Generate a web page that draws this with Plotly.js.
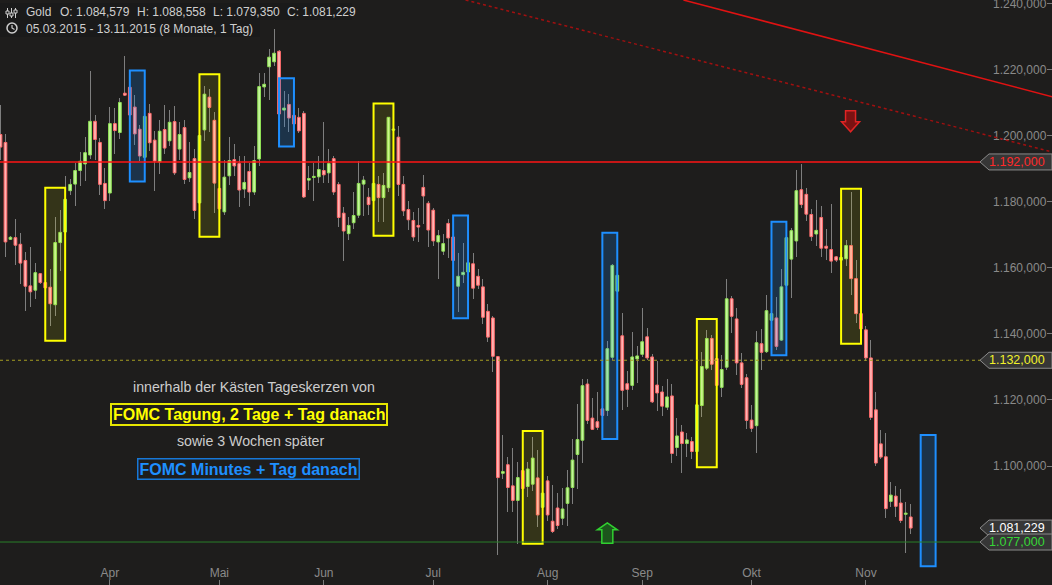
<!DOCTYPE html>
<html>
<head>
<meta charset="utf-8">
<script src="https://cdn.plot.ly/plotly-3.0.1.min.js"></script>
<style>
  html, body { margin: 0; padding: 0; background: #1e1d1c; }
  #chart { width: 1052px; height: 585px; }
</style>
</head>
<body>
<div id="chart"></div>
<script>
// Gold daily candles, 05.03.2015 - 13.11.2015 (one entry per session)
const opens = [
  1200.3,1197.9,1168.6,1169.1,1167.1,1162.2,1154.5,1153.2,1158.2,1155.5,
  1154.1,1148.8,1167.6,1170.8,1183.3,1185.3,1189.4,1191.4,1194.1,1204.3,
  1197.9,1185.5,1182.6,1203.6,1200.9,1212.8,1214.6,1208.6,1201.9,1193.4,
  1206.7,1198.6,1192.0,1201.8,1198.4,1204.2,1195.9,1202.4,1187.2,1193.0,
  1179.6,1201.7,1211.6,1204.6,1184.0,1176.9,1187.8,1192.7,1191.5,1183.8,
  1189.1,1182.9,1192.9,1214.7,1220.8,1222.3,1225.5,1207.7,1209.4,1206.1,
  1205.5,1206.7,1186.5,1187.3,1187.5,1189.4,1188.7,1193.0,1185.2,1176.5,
  1170.3,1173.6,1175.9,1185.3,1181.3,1180.3,1185.2,1181.2,1184.2,1201.6,
  1199.5,1185.2,1177.6,1174.3,1172.8,1184.3,1179.5,1177.4,1167.8,1165.0,
  1173.4,1169.3,1154.4,1157.9,1158.7,1161.2,1157.4,1154.2,1146.8,1144.8,
  1133.1,1097.8,1100.4,1094.0,1089.6,1098.6,1093.8,1094.5,1096.4,1087.5,
  1095.5,1083.3,1087.3,1084.2,1088.7,1093.5,1103.5,1107.8,1124.8,1114.5,
  1113.4,1117.3,1116.8,1132.9,1152.9,1139.4,1124.9,1124.4,1132.4,1133.8,
  1139.1,1133.0,1124.5,1122.4,1117.8,1121.2,1105.6,1110.3,1106.8,1107.4,
  1104.4,1118.3,1129.6,1138.6,1132.5,1123.8,1129.9,1150.6,1144.5,1131.2,
  1126.7,1113.9,1112.2,1137.0,1134.6,1144.1,1144.8,1138.1,1154.7,1162.6,
  1168.1,1183.6,1182.2,1176.1,1170.2,1175.2,1166.5,1165.5,1163.3,1162.3,
  1162.7,1166.7,1156.7,1146.1,1141.2,1132.7,1117.0,1106.7,1102.8,1089.3,
  1090.9,1088.8,1085.4,1084.579
];
const highs = [
  1209.2,1200.6,1169.5,1174.8,1170.4,1164.9,1166.2,1161.5,1158.5,1156.0,
  1159.5,1175.2,1177.6,1187.7,1186.7,1191.7,1194.9,1199.4,1219.5,1206.2,
  1199.1,1190.3,1208.7,1208.2,1211.3,1224.0,1215.5,1212.2,1203.1,1206.5,
  1209.5,1201.3,1204.6,1209.2,1207.7,1208.9,1204.0,1204.6,1197.9,1195.8,
  1201.0,1214.9,1214.0,1207.1,1184.5,1192.5,1199.4,1197.3,1193.7,1193.7,
  1191.7,1196.7,1218.8,1219.0,1226.2,1232.2,1226.0,1213.4,1212.7,1207.0,
  1208.4,1207.5,1190.7,1191.7,1193.7,1204.0,1196.0,1193.8,1185.8,1178.4,
  1175.3,1182.9,1192.3,1187.7,1184.1,1186.0,1187.7,1188.8,1205.6,1202.2,
  1202.8,1187.9,1180.1,1176.8,1178.2,1188.0,1180.3,1178.1,1171.3,1170.1,
  1174.6,1170.5,1164.5,1167.6,1162.5,1164.5,1159.5,1156.7,1149.1,1145.5,
  1133.2,1109.5,1102.8,1105.5,1101.1,1099.5,1101.1,1108.7,1104.9,1093.0,
  1097.0,1094.2,1091.8,1093.4,1098.9,1108.2,1118.9,1126.4,1126.4,1120.7,
  1122.5,1118.0,1137.7,1161.0,1158.2,1146.2,1128.9,1140.4,1136.2,1147.7,
  1141.9,1133.9,1131.9,1124.1,1126.2,1124.8,1114.6,1112.5,1110.1,1108.9,
  1119.0,1134.6,1141.3,1139.5,1133.0,1133.7,1156.5,1151.3,1147.9,1134.3,
  1127.7,1118.5,1140.9,1141.5,1151.6,1147.0,1151.0,1159.5,1169.5,1172.0,
  1189.5,1191.3,1184.0,1177.9,1180.4,1178.8,1171.6,1179.2,1163.6,1163.5,
  1168.3,1182.9,1162.2,1146.5,1142.5,1138.0,1122.5,1110.9,1110.0,1095.2,
  1094.0,1093.0,1089.2,1088.558
];
const lows = [
  1192.5,1163.2,1168.3,1160.7,1155.2,1146.8,1148.1,1150.5,1155.2,1153.0,
  1142.3,1145.3,1159.0,1170.0,1182.0,1178.7,1184.6,1186.2,1193.0,1192.5,
  1182.0,1177.8,1180.2,1194.3,1199.0,1212.0,1205.0,1197.1,1192.3,1193.0,
  1195.3,1183.2,1188.3,1194.3,1196.8,1188.0,1192.5,1185.2,1186.0,1174.7,
  1178.0,1198.4,1201.1,1176.5,1176.5,1176.0,1184.9,1187.7,1178.4,1181.0,
  1178.7,1182.0,1190.9,1211.7,1210.8,1221.0,1206.0,1202.6,1201.1,1202.5,
  1200.8,1181.0,1183.4,1180.2,1185.5,1185.5,1185.5,1182.0,1172.3,1162.0,
  1168.3,1171.8,1175.0,1175.5,1175.8,1179.5,1173.8,1173.8,1182.9,1201.4,
  1181.6,1175.6,1171.3,1168.0,1167.8,1173.1,1166.2,1166.5,1156.5,1163.7,
  1162.8,1159.0,1146.5,1155.3,1157.5,1150.4,1153.5,1143.0,1137.5,1128.4,
  1073.0,1096.1,1086.2,1086.2,1076.4,1092.0,1090.5,1092.5,1081.4,1086.0,
  1083.4,1079.6,1081.0,1082.2,1082.0,1088.5,1092.9,1100.8,1112.7,1110.9,
  1111.0,1114.5,1115.2,1132.0,1152.5,1116.8,1117.8,1122.9,1125.0,1133.0,
  1132.0,1119.0,1116.5,1115.2,1117.0,1100.8,1102.9,1097.8,1102.6,1102.0,
  1103.5,1114.7,1129.0,1129.2,1123.8,1120.8,1129.0,1140.2,1127.4,1123.5,
  1111.1,1110.4,1103.8,1129.2,1134.1,1143.5,1135.0,1137.7,1154.0,1150.8,
  1163.2,1178.0,1174.1,1168.1,1166.5,1163.2,1162.2,1158.4,1161.7,1162.0,
  1160.4,1151.6,1143.2,1141.0,1131.9,1113.9,1100.0,1102.1,1084.4,1087.7,
  1084.7,1082.9,1073.6,1079.350
];
const closes = [
  1196.5,1167.8,1169.2,1166.8,1161.4,1154.4,1152.7,1158.5,1155.5,1153.9,
  1149.1,1167.6,1170.7,1180.7,1185.2,1189.4,1192.2,1194.8,1204.3,1198.8,
  1185.2,1180.3,1203.6,1201.5,1210.0,1212.2,1206.2,1200.5,1193.8,1205.8,
  1197.8,1192.3,1201.3,1196.2,1204.0,1188.7,1200.3,1186.7,1188.8,1177.3,
  1200.0,1212.5,1208.5,1185.6,1177.8,1187.4,1192.4,1190.8,1183.5,1185.8,
  1182.9,1192.4,1214.8,1215.5,1223.7,1224.9,1206.5,1208.3,1205.3,1203.5,
  1201.4,1181.4,1187.0,1187.5,1189.7,1188.1,1191.5,1182.9,1175.2,1171.1,
  1172.8,1175.8,1185.5,1186.5,1179.1,1185.5,1181.2,1184.9,1205.5,1201.9,
  1185.2,1177.2,1174.5,1169.3,1172.3,1181.7,1171.4,1168.1,1169.7,1167.3,
  1169.0,1162.2,1157.4,1158.6,1161.5,1153.8,1154.7,1145.0,1139.0,1133.2,
  1096.5,1098.3,1093.5,1089.6,1096.5,1093.2,1099.1,1102.4,1085.2,1091.8,
  1085.2,1080.2,1082.0,1087.0,1093.4,1101.8,1108.0,1124.3,1113.8,1111.1,
  1111.7,1115.3,1135.5,1160.7,1157.7,1122.9,1123.2,1133.0,1133.3,1137.6,
  1132.7,1119.4,1122.1,1118.1,1120.9,1103.8,1109.1,1106.8,1107.9,1104.4,
  1118.5,1130.1,1138.6,1130.8,1124.4,1129.2,1150.6,1145.3,1131.2,1124.7,
  1113.8,1111.4,1137.3,1134.4,1147.0,1146.1,1136.2,1154.2,1169.1,1171.2,
  1183.3,1179.1,1176.2,1169.4,1171.3,1165.9,1165.9,1162.0,1162.3,1163.1,
  1166.7,1156.7,1146.1,1141.5,1132.7,1114.7,1100.9,1102.7,1087.1,1091.2,
  1087.8,1083.5,1085.6,1081.229
];

// month labels and the session index of the first trading day
const monthTicks  = [22, 44, 65, 87, 110, 129, 151, 174];
const monthLabels = ['Apr', 'Mai', 'Jun', 'Jul', 'Aug', 'Sep', 'Okt', 'Nov'];
const priceTicks  = [1100, 1120, 1140, 1160, 1180, 1200, 1220, 1240];

// FOMC meeting windows (2 days + day after) and minutes windows (+ day after)
const meetingStart  = [9, 40, 75, 105, 140, 169];
const meetingHigh   = [1184.2, 1218.5, 1209.7, 1110.6, 1144.5, 1183.9];
const meetingLow    = [1137.9, 1169.4, 1169.7, 1076.5, 1099.6, 1137.0];
const minutesStart  = [26, 56, 91, 121, 155, 185];
const minutesHigh   = [1219.7, 1217.3, 1175.8, 1170.6, 1173.9, 1109.4];
const minutesLow    = [1186.1, 1196.7, 1144.7, 1108.2, 1133.5, 1069.7];

// horizontal levels and trend lines
const resistance = 1192;
const midLevel   = 1132;
const support    = 1077;
const trendSolidX  = [137.3, 211.5];
const trendSolidY  = [1241.0, 1211.7];
const trendDottedX = [93.5, 211.5];
const trendDottedY = [1241.0, 1195.0];

// signal arrows: session index and price at the arrow tip
const sellArrow = { x: 170.9, y: 1201.1 };
const buyArrow  = { x: 122.0, y: 1082.8 };

const FONT = 'Liberation Sans, Arial, sans-serif';
const W = 1052, H = 585;
const px = v => v / W;
const py = v => 1 - v / H;

function fmtDE(v) {
  const parts = v.toFixed(3).split('.');
  return parts[0].replace(/\B(?=(\d{3})+(?!\d))/g, '.') + ',' + parts[1];
}

const idx = opens.map((_, i) => i);
const rising = closes.map((c, i) => c >= opens[i]);
const bodyBase = opens.map((o, i) => Math.min(o, closes[i]));
const bodyLen = opens.map((o, i) => Math.max(Math.abs(closes[i] - o), 0.35));

const wicks = {
  type: 'bar', x: idx, base: lows, y: highs.map((h, i) => h - lows[i]),
  width: 0.2, marker: { color: '#7e7e7e', line: { width: 0 } },
  hoverinfo: 'skip'
};
const bodies = {
  type: 'bar', x: idx, base: bodyBase, y: bodyLen, width: 0.55,
  marker: {
    color: rising.map(r => r ? '#c4f59b' : '#ffb4b4'),
    line: { color: rising.map(r => r ? '#8fe055' : '#ff6a6a'), width: 1 }
  },
  hoverinfo: 'skip'
};

const shapes = [];
meetingStart.forEach((s, i) => shapes.push({
  type: 'rect', xref: 'x', yref: 'y', layer: 'above',
  x0: s, x1: s + 4, y0: meetingLow[i], y1: meetingHigh[i],
  fillcolor: 'rgba(255,255,0,0.10)', line: { color: '#ffff00', width: 2 }
}));
minutesStart.forEach((s, i) => shapes.push({
  type: 'rect', xref: 'x', yref: 'y', layer: 'above',
  x0: s, x1: s + 3, y0: minutesLow[i], y1: minutesHigh[i],
  fillcolor: 'rgba(20,140,255,0.20)', line: { color: '#1e8fff', width: 2 }
}));

// levels
shapes.push({ type: 'line', xref: 'paper', yref: 'y', layer: 'above', x0: 0, x1: 1,
  y0: resistance, y1: resistance, line: { color: '#ff1414', width: 1.5 } });
shapes.push({ type: 'line', xref: 'paper', yref: 'y', layer: 'above', x0: 0, x1: 1,
  y0: midLevel, y1: midLevel, line: { color: '#a59d22', width: 1, dash: '3px,3px' } });
shapes.push({ type: 'line', xref: 'paper', yref: 'y', layer: 'above', x0: 0, x1: 1,
  y0: support, y1: support, line: { color: '#2a7f2a', width: 1 } });

// trend lines
shapes.push({ type: 'line', xref: 'x', yref: 'y', layer: 'above',
  x0: trendSolidX[0], x1: trendSolidX[1], y0: trendSolidY[0], y1: trendSolidY[1],
  line: { color: '#e01212', width: 1.5 } });
shapes.push({ type: 'line', xref: 'x', yref: 'y', layer: 'above',
  x0: trendDottedX[0], x1: trendDottedX[1], y0: trendDottedY[0], y1: trendDottedY[1],
  line: { color: '#a01010', width: 1.5, dash: 'dot' } });

// arrows
shapes.push({ type: 'path', xref: 'x', yref: 'y', layer: 'above',
  xsizemode: 'pixel', ysizemode: 'pixel', xanchor: sellArrow.x, yanchor: sellArrow.y,
  path: 'M0,0 L-9,10 L-5,10 L-5,21 L5,21 L5,10 L9,10 Z',
  fillcolor: '#7a1212', line: { color: '#e02424', width: 1.5 } });
shapes.push({ type: 'path', xref: 'x', yref: 'y', layer: 'above',
  xsizemode: 'pixel', ysizemode: 'pixel', xanchor: buyArrow.x, yanchor: buyArrow.y,
  path: 'M0,0 L-10,-7 L-5.5,-7 L-5.5,-20.5 L5.5,-20.5 L5.5,-7 L10,-7 Z',
  fillcolor: '#1c561c', line: { color: '#30d030', width: 1.5 } });

// price tags on the right axis
const tags = [
  { v: resistance, color: '#ff2a2a' },
  { v: midLevel, color: '#f2f22a' },
  { v: closes[closes.length - 1], color: '#ffffff' },
  { v: support, color: '#36d636' }
];
tags.forEach(t => shapes.push({
  type: 'path', xref: 'paper', yref: 'y', layer: 'above',
  xsizemode: 'pixel', ysizemode: 'pixel', xanchor: 1, yanchor: t.v,
  path: 'M0,8 L-63,8 L-72,0 L-63,-8 L0,-8 Z',
  fillcolor: '#363636', line: { color: '#8a8a8a', width: 1 }
}));

// header background and icons
shapes.push({ type: 'rect', xref: 'paper', yref: 'paper', layer: 'above',
  x0: px(0), x1: px(352), y0: py(20), y1: py(3), fillcolor: '#1a1a1a', line: { width: 0 } });
shapes.push({ type: 'rect', xref: 'paper', yref: 'paper', layer: 'above',
  x0: px(0), x1: px(260), y0: py(37), y1: py(20), fillcolor: '#1a1a1a', line: { width: 0 } });
[7.5, 11.5, 15.5].forEach((x, i) => {
  shapes.push({ type: 'line', xref: 'paper', yref: 'paper', layer: 'above',
    x0: px(x), x1: px(x), y0: py(18), y1: py(8), line: { color: '#cfcfcf', width: 1 } });
  const c = [12, 14, 11][i];
  shapes.push({ type: 'rect', xref: 'paper', yref: 'paper', layer: 'above',
    x0: px(x - 1.5), x1: px(x + 1.5), y0: py(c + 2), y1: py(c - 1),
    fillcolor: '#1a1a1a', line: { color: '#cfcfcf', width: 1 } });
});
shapes.push({ type: 'circle', xref: 'paper', yref: 'paper', layer: 'above',
  x0: px(7), x1: px(17), y0: py(33), y1: py(23), line: { color: '#cfcfcf', width: 1.5 } });
shapes.push({ type: 'path', xref: 'paper', yref: 'paper', layer: 'above',
  path: `M${px(12)},${py(25)} L${px(12)},${py(28)} L${px(14.5)},${py(29.5)}`,
  line: { color: '#cfcfcf', width: 1.2 } });

const last = opens.length - 1;
const annotations = [
  { text: 'Gold', x: px(24) },
  { text: 'O: ' + fmtDE(opens[last]), x: px(58) },
  { text: 'H: ' + fmtDE(highs[last]), x: px(134.5) },
  { text: 'L: ' + fmtDE(lows[last]), x: px(210.5) },
  { text: 'C: ' + fmtDE(closes[last]), x: px(284.5) }
].map(a => ({
  text: a.text, x: a.x, y: py(12), xref: 'paper', yref: 'paper',
  xanchor: 'left', yanchor: 'middle', showarrow: false,
  font: { family: FONT, size: 12, color: '#cfcfcf' }
}));
annotations.push({
  text: '05.03.2015 - 13.11.2015 (8 Monate, 1 Tag)', x: px(24), y: py(28.5),
  xref: 'paper', yref: 'paper', xanchor: 'left', yanchor: 'middle', showarrow: false,
  font: { family: FONT, size: 12, color: '#cfcfcf' }
});

// explanation text in the chart
const centered = { xref: 'paper', yref: 'paper', xanchor: 'center', yanchor: 'middle', showarrow: false };
annotations.push(Object.assign({
  text: 'innerhalb der Kästen Tageskerzen von', x: px(254), y: py(387),
  font: { family: FONT, size: 14.2, color: '#cccccc' }
}, centered));
annotations.push(Object.assign({
  text: '<b>FOMC Tagung, 2 Tage + Tag danach</b>', x: px(248.5), y: py(414.5),
  font: { family: FONT, size: 16, color: '#ffff00' },
  bgcolor: '#1e1d1c', bordercolor: '#e6e600', borderwidth: 2, borderpad: 1
}, centered));
annotations.push(Object.assign({
  text: 'sowie 3 Wochen später', x: px(250), y: py(441),
  font: { family: FONT, size: 14.2, color: '#cccccc' }
}, centered));
annotations.push(Object.assign({
  text: '<b>FOMC Minutes + Tag danach</b>', x: px(248.5), y: py(469),
  font: { family: FONT, size: 16, color: '#1e8fff' },
  bgcolor: '#1e1d1c', bordercolor: '#1778d8', borderwidth: 1.5, borderpad: 1
}, centered));

// tag labels
tags.forEach(t => annotations.push({
  text: fmtDE(t.v), x: 1, xref: 'paper', y: t.v, yref: 'y',
  xanchor: 'right', yanchor: 'middle', xshift: -5, showarrow: false,
  font: { family: FONT, size: 12.5, color: t.color }
}));

const layout = {
  width: W, height: H,
  paper_bgcolor: '#1e1d1c', plot_bgcolor: '#1e1d1c',
  margin: { l: 0, r: 0, t: 0, b: 0, pad: 0 },
  separators: ',.',
  showlegend: false, hovermode: false,
  barmode: 'overlay', bargap: 0, bargroupgap: 0,
  xaxis: {
    range: [-0.1, 211.4], tickmode: 'array', tickvals: monthTicks, ticktext: monthLabels,
    ticks: 'inside', ticklen: 5, tickcolor: '#7a7a7a', tickwidth: 1,
    ticklabelposition: 'inside', ticklabeloverflow: 'allow',
    tickfont: { family: FONT, size: 12, color: '#8a8a8a' },
    showgrid: false, zeroline: false, showline: false, automargin: false, fixedrange: true
  },
  yaxis: {
    side: 'right', range: [1064.0, 1241.0], tickmode: 'array', tickvals: priceTicks,
    tickformat: ',.3f', ticks: 'inside', ticklen: 5, tickcolor: '#7a7a7a', tickwidth: 1,
    ticklabelposition: 'inside', ticklabeloverflow: 'allow',
    tickfont: { family: FONT, size: 12, color: '#8a8a8a' },
    showgrid: false, zeroline: false, showline: false, automargin: false, fixedrange: true
  },
  shapes: shapes,
  annotations: annotations
};

Plotly.newPlot('chart', [wicks, bodies], layout, { displayModeBar: false, staticPlot: true });
</script>
</body>
</html>
